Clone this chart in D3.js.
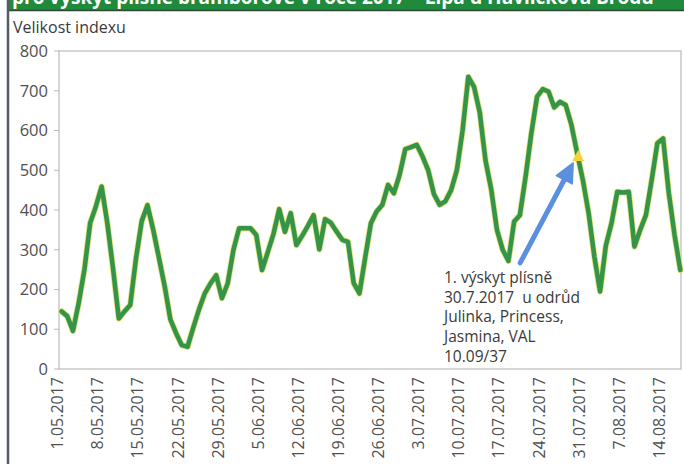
<!DOCTYPE html>
<html>
<head>
<meta charset="utf-8">
<script src="https://cdn.jsdelivr.net/npm/d3@7"></script>
<style>
  body { margin: 0; background: #fff; }
  svg { display: block; font-family: "Open Sans", sans-serif; }
</style>
</head>
<body>
<div id="chart"></div>
<script>
const width = 684, height = 464;

// denní hodnoty indexu od 1.5.2017
const startDate = new Date(2017, 4, 1);
const indexValues = [
  145, 133, 96, 166, 250, 367, 409, 459, 367, 252,
  127, 145, 161, 278, 372, 412, 351, 280, 209, 125,
  90, 60, 56, 104, 150, 190, 215, 236, 178, 215,
  299, 354, 354, 354, 337, 249, 294, 340, 402, 345,
  392, 312, 335, 360, 387, 301, 377, 368, 346, 325,
  320, 216, 190, 280, 367, 396, 413, 463, 442, 488,
  553, 558, 564, 535, 500, 440, 413, 422, 450, 500,
  600, 735, 710, 645, 525, 452, 350, 300, 272, 371,
  387, 484, 593, 685, 704, 698, 658, 672, 664, 614,
  543, 475, 392, 283, 195, 310, 367, 446, 444, 446,
  308, 350, 387, 475, 568, 580, 442, 337, 249
];
const yTicks = [0, 100, 200, 300, 400, 500, 600, 700, 800];
const xTickLabels = ["1.05.2017", "8.05.2017", "15.05.2017", "22.05.2017", "29.05.2017",
  "5.06.2017", "12.06.2017", "19.06.2017", "26.06.2017", "3.07.2017", "10.07.2017",
  "17.07.2017", "24.07.2017", "31.07.2017", "7.08.2017", "14.08.2017"];
const noteLines = ["1. výskyt plísně", "30.7.2017  u odrůd", "Julinka, Princess,", "Jasmina, VAL", "10.09/37"];
const noteDate = new Date(2017, 6, 30);
const noteValue = 536;

const data = indexValues.map((v, i) => ({ date: d3.timeDay.offset(startDate, i), value: v }));
const parseLabel = d3.timeParse("%-d.%m.%Y");

const margin = { left: 59, right: 3, top: 51, bottom: 95 };

const x = d3.scaleTime()
  .domain([startDate, data[data.length - 1].date])
  .range([61.5, 680.3]);
const y = d3.scaleLinear()
  .domain([0, 800])
  .range([height - margin.bottom, margin.top]);

const svg = d3.select("#chart").append("svg")
  .attr("width", width).attr("height", height);

// zelená hlavička (oříznutá)
svg.append("rect").attr("x", 8).attr("y", 0).attr("width", width - 8).attr("height", 10).attr("fill", "#1f8a3c");
svg.append("line").attr("x1", 8).attr("x2", width).attr("y1", 10.5).attr("y2", 10.5).attr("stroke", "#2d4a36").attr("stroke-width", 1.5);
svg.append("text").attr("x", 12).attr("y", 4).attr("fill", "#fff").attr("font-weight", 700).attr("font-size", 19)
  .text("pro výskyt plísně bramborové v roce 2017 – Lípa u Havlíčkova Brodu");
// levý okraj rámečku
svg.append("line").attr("x1", 8).attr("x2", 8).attr("y1", 0).attr("y2", height).attr("stroke", "#555b60").attr("stroke-width", 2.5);

svg.append("text").attr("x", 13).attr("y", 33).attr("font-size", 16).attr("fill", "#3a3a3a").text("Velikost indexu");

// rámeček grafu
svg.append("rect")
  .attr("x", margin.left).attr("y", margin.top)
  .attr("width", 681 - margin.left).attr("height", y(0) - margin.top)
  .attr("fill", "none").attr("stroke", "#b9b9b9").attr("stroke-width", 1.2);

// osa y
const yAxis = svg.append("g");
yAxis.selectAll("line").data(yTicks).enter().append("line")
  .attr("x1", 54).attr("x2", margin.left)
  .attr("y1", d => y(d)).attr("y2", d => y(d))
  .attr("stroke", "#b9b9b9");
yAxis.selectAll("text").data(yTicks).enter().append("text")
  .attr("x", 48).attr("y", d => y(d)).attr("dy", "0.36em")
  .attr("text-anchor", "end").attr("font-size", 16.5).attr("fill", "#505050")
  .text(d => d);

// osa x
svg.append("g").selectAll("text").data(xTickLabels).enter().append("text")
  .attr("transform", d => `translate(${x(parseLabel(d)) - 4},377) rotate(-90)`)
  .attr("dy", "0.36em")
  .attr("text-anchor", "end").attr("font-size", 16).attr("fill", "#505050")
  .text(d => d);

// čára indexu
const line = d3.line().x(d => x(d.date)).y(d => y(d.value));
svg.append("path").datum(data)
  .attr("d", line)
  .attr("fill", "none")
  .attr("stroke", "#e8e27a").attr("stroke-width", 6.2)
  .attr("stroke-linejoin", "round").attr("stroke-linecap", "round");
svg.append("path").datum(data)
  .attr("d", line)
  .attr("fill", "none")
  .attr("stroke", "#34954a").attr("stroke-width", 4.6)
  .attr("stroke-linejoin", "round").attr("stroke-linecap", "round");

// šipka a trojúhelník
const tip = [x(noteDate) - 4, y(noteValue) + 7];
const tail = [x(noteDate) - 57, y(noteValue) + 107];
const ang = Math.atan2(tip[1] - tail[1], tip[0] - tail[0]);
const headLen = 19, headW = 9;
const base = [tip[0] - headLen * Math.cos(ang), tip[1] - headLen * Math.sin(ang)];
svg.append("line")
  .attr("x1", tail[0]).attr("y1", tail[1]).attr("x2", base[0]).attr("y2", base[1])
  .attr("stroke", "#5a90dd").attr("stroke-width", 5).attr("stroke-linecap", "round");
svg.append("path")
  .attr("d", `M${tip[0]},${tip[1]}L${base[0] + headW * Math.sin(ang)},${base[1] - headW * Math.cos(ang)}L${base[0] - headW * Math.sin(ang)},${base[1] + headW * Math.cos(ang)}Z`)
  .attr("fill", "#5a90dd").attr("stroke", "#5a90dd").attr("stroke-width", 1.5).attr("stroke-linejoin", "round");

const tx = x(noteDate) + 1, ty = y(noteValue);
svg.append("path")
  .attr("d", `M${tx},${ty - 6}L${tx + 6},${ty + 5}L${tx - 6},${ty + 5}Z`)
  .attr("fill", "#f3d23c");

// poznámka
svg.append("g").selectAll("text").data(noteLines).enter().append("text")
  .attr("x", 444).attr("y", (d, i) => 283 + i * 19.7)
  .attr("font-size", 15.5).attr("fill", "#3a3a3a")
  .style("white-space", "pre")
  .text(d => d);
</script>
</body>
</html>
